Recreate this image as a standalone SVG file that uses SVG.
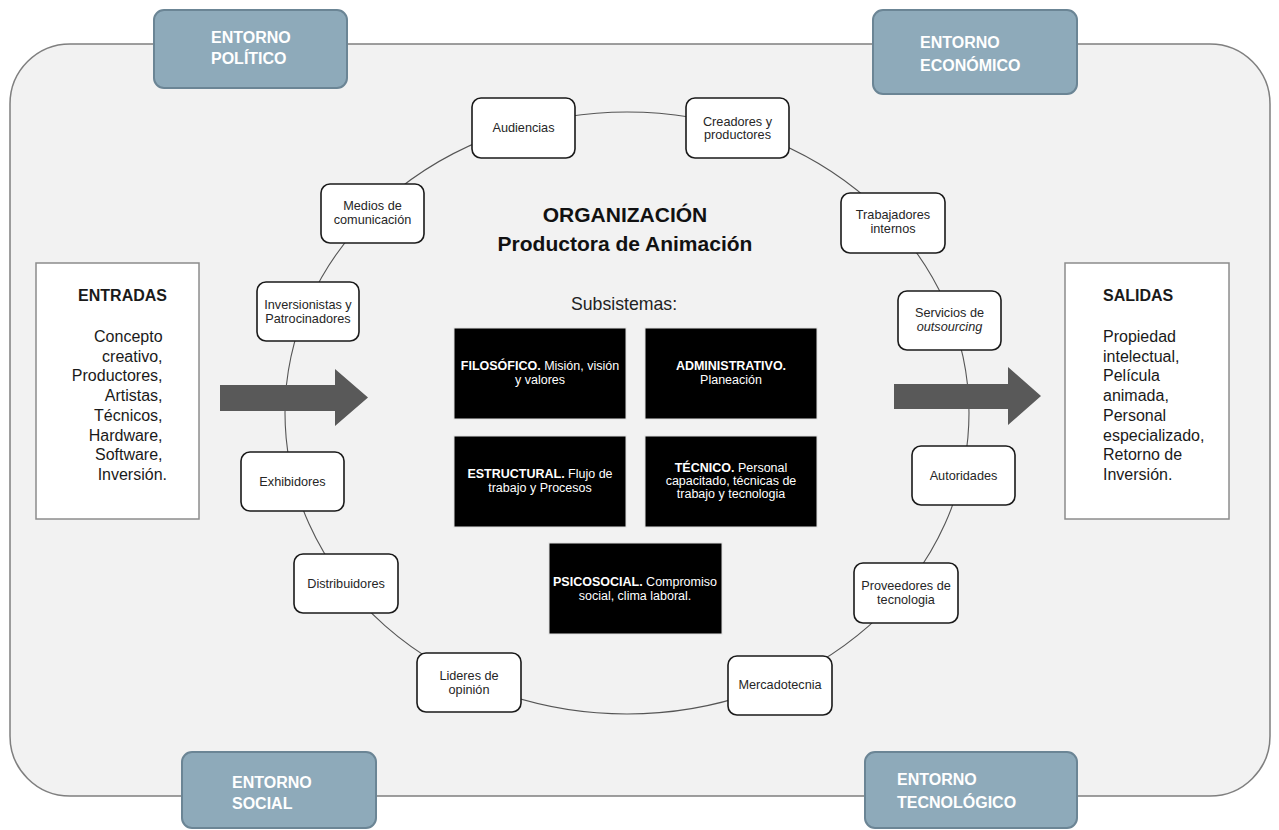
<svg xmlns="http://www.w3.org/2000/svg" width="1279" height="830" viewBox="0 0 1279 830">
  <style>
    text { font-family: "Liberation Sans", Arial, sans-serif; }
    .env rect { fill: #8eaaba; stroke: #6b8595; stroke-width: 2; }
    .env text { fill: #ffffff; font-size: 16px; font-weight: bold; }
    .node rect { fill: #ffffff; stroke: #1a1a1a; stroke-width: 1.6; }
    .node text { fill: #262626; font-size: 12.7px; text-anchor: middle; }
    .sub rect { fill: #000000; stroke: #e0e0e0; stroke-width: 1; }
    .sub text { fill: #ffffff; font-size: 12.5px; text-anchor: middle; }
    .io rect { fill: #ffffff; stroke: #8c8c8c; stroke-width: 1.5; }
    .io text { fill: #1a1a1a; font-size: 16px; }
    .title { fill: #111111; font-size: 21px; font-weight: bold; text-anchor: middle; }
    .flow { fill: #595959; }
    .ring { fill: none; stroke: #555555; stroke-width: 1.1; }
  </style>

  <!-- organisation boundary -->
  <rect id="boundary" x="10" y="44" width="1260" height="752" rx="60" ry="60" fill="#f2f2f2" stroke="#7f7f7f" stroke-width="1.5"/>

  <!-- ring joining the stakeholder nodes -->
  <g id="connectors">
    <ellipse class="ring" cx="627" cy="413" rx="342" ry="301"/>
  </g>

  <!-- environment tabs -->
  <g id="env-politico" class="env">
    <rect x="154" y="10" width="193" height="78" rx="10"/>
    <text x="211" y="43">ENTORNO</text>
    <text x="211" y="64">POLÍTICO</text>
  </g>
  <g id="env-economico" class="env">
    <rect x="873" y="10" width="204" height="84" rx="10"/>
    <text x="920" y="48">ENTORNO</text>
    <text x="920" y="71">ECONÓMICO</text>
  </g>
  <g id="env-social" class="env">
    <rect x="182" y="752" width="194" height="76" rx="10"/>
    <text x="232" y="788">ENTORNO</text>
    <text x="232" y="809">SOCIAL</text>
  </g>
  <g id="env-tecnologico" class="env">
    <rect x="865" y="752" width="212" height="76" rx="10"/>
    <text x="897" y="785">ENTORNO</text>
    <text x="897" y="808">TECNOLÓGICO</text>
  </g>

  <!-- inputs / outputs -->
  <g id="entradas" class="io">
    <rect x="36" y="263" width="163" height="256"/>
    <text x="167" y="301" text-anchor="end" font-weight="bold" font-size="15">ENTRADAS</text>
    <text text-anchor="end">
      <tspan x="167" y="342">Concepto</tspan>
      <tspan x="167" y="361.7">creativo,</tspan>
      <tspan x="167" y="381.4">Productores,</tspan>
      <tspan x="167" y="401.1">Artistas,</tspan>
      <tspan x="167" y="420.8">Técnicos,</tspan>
      <tspan x="167" y="440.5">Hardware,</tspan>
      <tspan x="167" y="460.2">Software,</tspan>
      <tspan x="167" y="480">Inversión.</tspan>
    </text>
  </g>
  <g id="salidas" class="io">
    <rect x="1065" y="263" width="164" height="256"/>
    <text x="1103" y="301" font-weight="bold" font-size="15">SALIDAS</text>
    <text>
      <tspan x="1103" y="342">Propiedad</tspan>
      <tspan x="1103" y="361.7">intelectual,</tspan>
      <tspan x="1103" y="381.4">Película</tspan>
      <tspan x="1103" y="401.1">animada,</tspan>
      <tspan x="1103" y="420.8">Personal</tspan>
      <tspan x="1103" y="440.5">especializado,</tspan>
      <tspan x="1103" y="460.2">Retorno de</tspan>
      <tspan x="1103" y="480">Inversión.</tspan>
    </text>
  </g>

  <!-- flow arrows -->
  <g id="flow-in">
    <polygon class="flow" points="220,385 335,385 335,369 368,397.5 335,426 335,411 220,411"/>
  </g>
  <g id="flow-out">
    <polygon class="flow" points="894,384 1008,384 1008,367 1041,396 1008,425 1008,409 894,409"/>
  </g>

  <!-- centre title -->
  <g id="titulo">
    <text class="title" x="625" y="222">ORGANIZACIÓN</text>
    <text class="title" x="625" y="251">Productora de Animación</text>
    <text x="624" y="310" text-anchor="middle" font-size="17.7" fill="#222222">Subsistemas:</text>
  </g>

  <!-- subsystems -->
  <g id="sub-filosofico" class="sub">
    <rect x="454" y="328" width="172" height="91"/>
    <text x="540" y="370"><tspan font-weight="bold">FILOSÓFICO.</tspan> Misión, visión</text>
    <text x="540" y="384">y valores</text>
  </g>
  <g id="sub-administrativo" class="sub">
    <rect x="645" y="328" width="172" height="91"/>
    <text x="731" y="370" font-weight="bold">ADMINISTRATIVO.</text>
    <text x="731" y="384">Planeación</text>
  </g>
  <g id="sub-estructural" class="sub">
    <rect x="454" y="436" width="172" height="91"/>
    <text x="540" y="478"><tspan font-weight="bold">ESTRUCTURAL.</tspan> Flujo de</text>
    <text x="540" y="492">trabajo y Procesos</text>
  </g>
  <g id="sub-tecnico" class="sub">
    <rect x="645" y="436" width="172" height="91"/>
    <text x="731" y="472"><tspan font-weight="bold">TÉCNICO.</tspan> Personal</text>
    <text x="731" y="485">capacitado, técnicas de</text>
    <text x="731" y="498">trabajo y tecnologia</text>
  </g>
  <g id="sub-psicosocial" class="sub">
    <rect x="549" y="543" width="173" height="91"/>
    <text x="635" y="586"><tspan font-weight="bold">PSICOSOCIAL.</tspan> Compromiso</text>
    <text x="635" y="600">social, clima laboral.</text>
  </g>

  <!-- stakeholder nodes -->
  <g id="n-audiencias" class="node">
    <rect x="472" y="98" width="103" height="60" rx="9"/>
    <text x="523.5" y="132">Audiencias</text>
  </g>
  <g id="n-creadores" class="node">
    <rect x="686" y="98" width="103" height="60" rx="9"/>
    <text x="737.5" y="125.5">Creadores y</text>
    <text x="737.5" y="139">productores</text>
  </g>
  <g id="n-medios" class="node">
    <rect x="321" y="184" width="103" height="59" rx="9"/>
    <text x="372.5" y="209.5">Medios de</text>
    <text x="372.5" y="224">comunicación</text>
  </g>
  <g id="n-inversionistas" class="node">
    <rect x="257" y="282" width="102" height="59" rx="9"/>
    <text x="308" y="309">Inversionistas y</text>
    <text x="308" y="323">Patrocinadores</text>
  </g>
  <g id="n-exhibidores" class="node">
    <rect x="241" y="452" width="103" height="59" rx="9"/>
    <text x="292.5" y="486">Exhibidores</text>
  </g>
  <g id="n-distribuidores" class="node">
    <rect x="294" y="554" width="104" height="59" rx="9"/>
    <text x="346" y="588">Distribuidores</text>
  </g>
  <g id="n-lideres" class="node">
    <rect x="417" y="653" width="104" height="59" rx="9"/>
    <text x="469" y="680">Lideres de</text>
    <text x="469" y="694">opinión</text>
  </g>
  <g id="n-mercadotecnia" class="node">
    <rect x="728" y="656" width="104" height="59" rx="9"/>
    <text x="780" y="689">Mercadotecnia</text>
  </g>
  <g id="n-proveedores" class="node">
    <rect x="854" y="563" width="104" height="60" rx="9"/>
    <text x="906" y="590">Proveedores de</text>
    <text x="906" y="604">tecnologia</text>
  </g>
  <g id="n-autoridades" class="node">
    <rect x="912" y="446" width="103" height="59" rx="9"/>
    <text x="963.5" y="480">Autoridades</text>
  </g>
  <g id="n-servicios" class="node">
    <rect x="898" y="291" width="103" height="59" rx="9"/>
    <text x="949.5" y="317">Servicios de</text>
    <text x="949.5" y="331" font-style="italic">outsourcing</text>
  </g>
  <g id="n-trabajadores" class="node">
    <rect x="841" y="193" width="104" height="60" rx="9"/>
    <text x="893" y="219">Trabajadores</text>
    <text x="893" y="233">internos</text>
  </g>
</svg>
